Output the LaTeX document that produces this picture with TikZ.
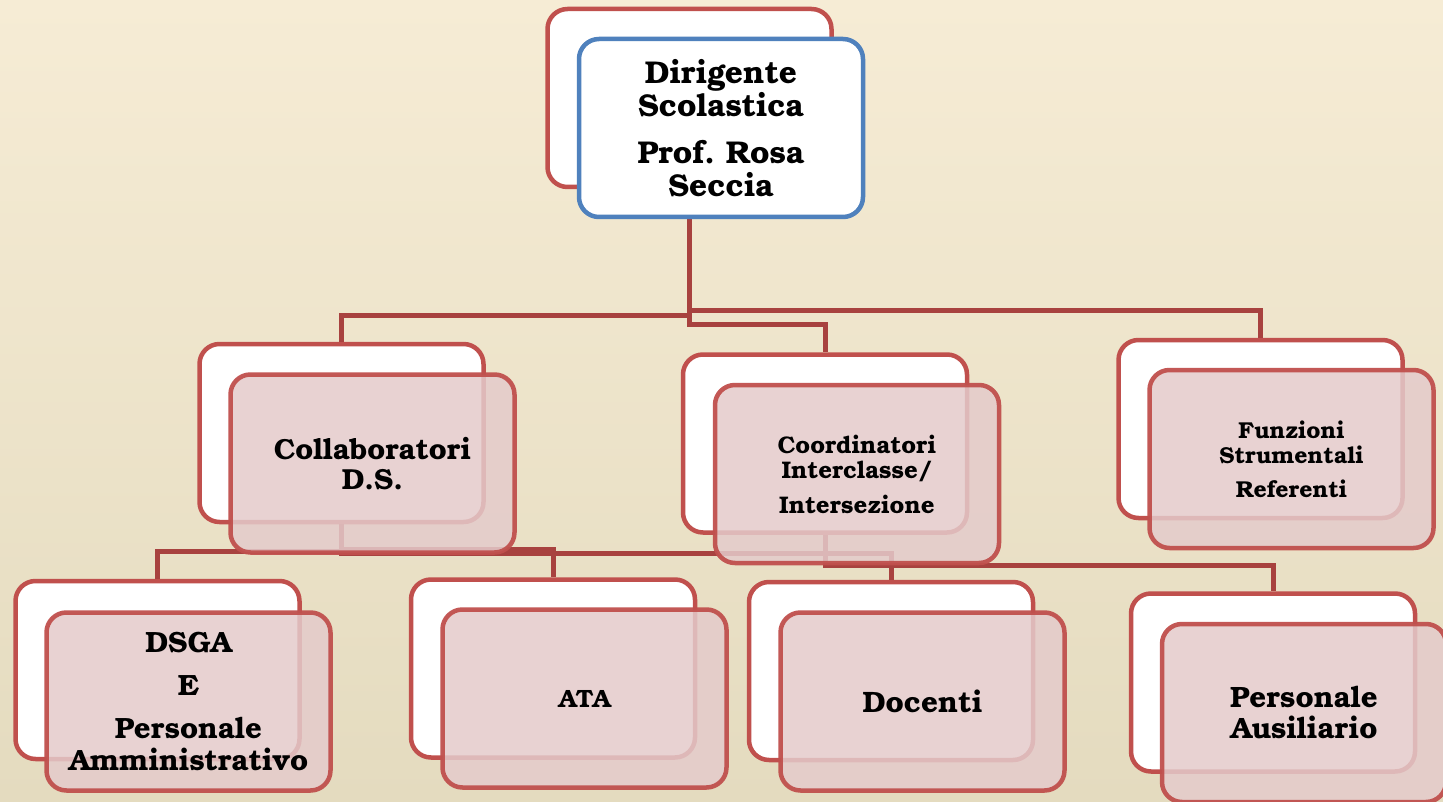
\documentclass[tikz,border=0pt]{standalone}
\usepackage{fontspec}
\setmainfont{TeX Gyre Bonum}
\usetikzlibrary{calc}
\frenchspacing
\definecolor{bgtop}{HTML}{F6ECD5}
\definecolor{bgbot}{HTML}{E4DBBF}
\definecolor{boxred}{HTML}{C0504D}
\definecolor{connred}{HTML}{A8423F}
\definecolor{frontpink}{HTML}{E4CBCB}
\definecolor{rootblue}{HTML}{4F81BD}
\tikzset{
  backbox/.style={draw=boxred, fill=white, line width=4.5pt, rounded corners=20pt,
    minimum width=284pt, minimum height=178pt, inner sep=0pt},
  frontbox/.style={draw=boxred, fill=frontpink, fill opacity=0.85, draw opacity=0.95,
    text opacity=1, line width=4.5pt, rounded corners=20pt,
    minimum width=284pt, minimum height=178pt, inner sep=0pt, align=center, text=black},
  rootbox/.style={frontbox, draw=rootblue, fill=white, fill opacity=1, draw opacity=1},
  conn/.style={draw=connred, line width=5pt, line join=miter},
}
\begin{document}
\begin{tikzpicture}[x=1pt,y=-1pt]
\useasboundingbox (0,0) rectangle (1443,802);
\clip (0,0) rectangle (1443,802);
\shade[top color=bgtop, bottom color=bgbot] (0,0) rectangle (1443,802);

% back boxes
\node[backbox] (rootB) at (689.5,98) {};
\node[backbox] (collB) at (341.5,433) {};
\node[backbox] (coorB) at (825,443.5) {};
\node[backbox] (funzB) at (1260.5,429) {};
\node[backbox] (dsgaB) at (157.5,670) {};
\node[backbox] (ataB) at (553,668.5) {};
\node[backbox] (docB) at (891,671) {};
\node[backbox] (pauB) at (1273,682.5) {};

% connectors
\draw[conn] (rootB.south) -- (rootB.south |- 0,311) -| (funzB.north);
\draw[conn] (rootB.south) -- (rootB.south |- 0,316) -| (collB.north);
\draw[conn] (rootB.south) -- (rootB.south |- 0,325) -| (coorB.north);
\draw[conn] (collB.south) -- (collB.south |- 0,551) -| (dsgaB.north);
\draw[conn] (collB.south) -- (collB.south |- 0,549) -| (ataB.north);
\draw[conn] (collB.south) -- (collB.south |- 0,553) -| (docB.north);
\draw[conn] (coorB.south) -- (coorB.south |- 0,565) -| (pauB.north);

% front boxes
\node[rootbox, font=\bfseries\fontsize{31.5}{32.5}\selectfont] (rootF) at (721,128)
  {Dirigente\\Scolastica\\[15pt]Prof. Rosa\\Seccia};
\node[frontbox, font=\bfseries\fontsize{29}{30}\selectfont] (collF) at (372.5,463.5)
  {Collaboratori\\D.S.};
\node[frontbox, font=\bfseries\fontsize{24}{25}\selectfont] (coorF) at (857,474)
  {Coordinatori\\Interclasse/\\[10pt]Intersezione};
\node[frontbox, font=\bfseries\fontsize{23}{25}\selectfont] (funzF) at (1291.5,459)
  {Funzioni\\Strumentali\\[9pt]Referenti};
\node[frontbox, font=\bfseries\fontsize{29.3}{32}\selectfont] (dsgaF) at (188.5,701.5)
  {DSGA\\[11pt]E\\[11pt]Personale\\Amministrativo};
\node[frontbox, font=\bfseries\fontsize{25}{25}\selectfont] (ataF) at (584.5,698.5)
  {ATA};
\node[frontbox, font=\bfseries\fontsize{29.5}{30}\selectfont] (docF) at (922.5,701.5)
  {Docenti};
\node[frontbox, font=\bfseries\fontsize{29.4}{31}\selectfont] (pauF) at (1304,713)
  {Personale\\Ausiliario};
\end{tikzpicture}
\end{document}
